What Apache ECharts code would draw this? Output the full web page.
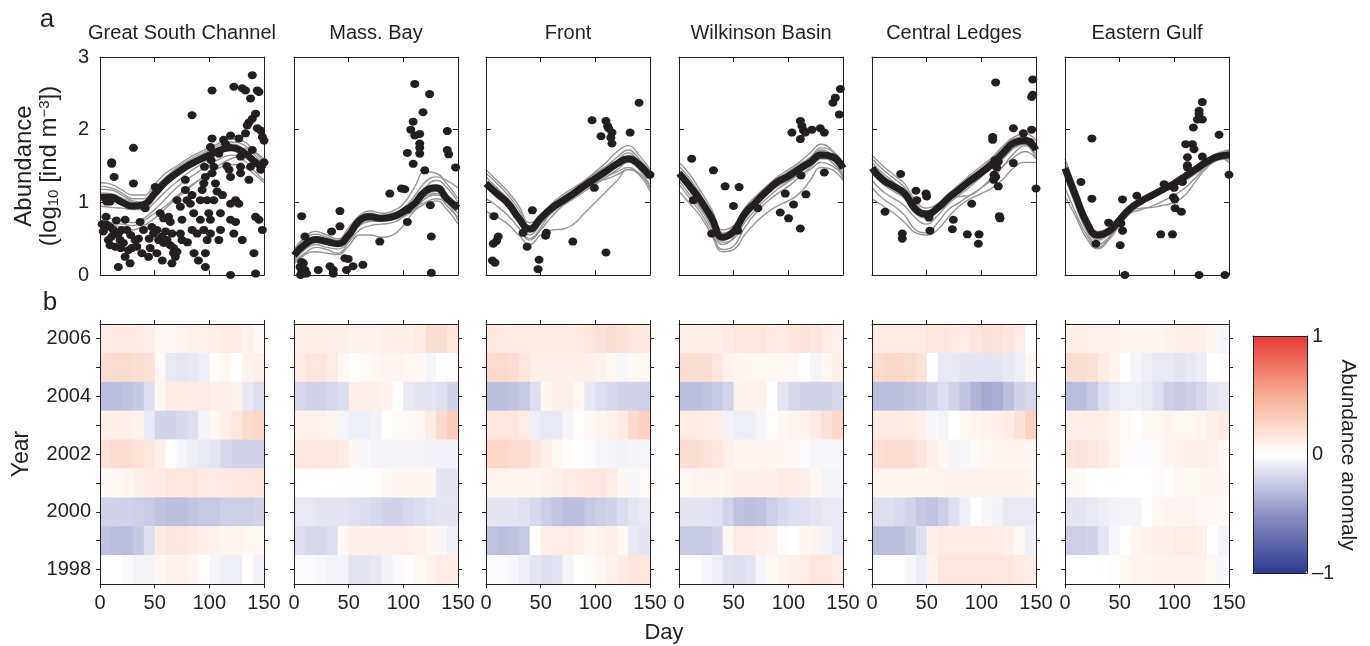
<!DOCTYPE html>
<html><head><meta charset="utf-8">
<script src="https://cdn.jsdelivr.net/npm/echarts@6/dist/echarts.min.js"></script>
<style>html,body{margin:0;padding:0;background:#fff}#c{width:1370px;height:646px}</style>
</head><body><div id="c"></div>
<script>
const regions = ['Great South Channel','Mass. Bay','Front','Wilkinson Basin','Central Ledges','Eastern Gulf'];
const days = [0,10,20,30,40,50,60,70,80,90,100,110,120,130,140,150];
const cellDays = [0,10,20,30,40,50,60,70,80,90,100,110,120,130,140];
const years = [2006,2005,2004,2003,2002,2001,2000,1999,1998];
const yearLabels = [1998,2000,2002,2004,2006];

// ---- panel a: observations (day, log10 abundance)
const obsGSC = [[10.7,1.55],[10.7,1.53],[12.9,1.35],[6.1,1.01],[9.2,1.01],[5.5,0.80],[6.1,0.69],[9.2,0.66],[12.2,0.62],[13.8,0.57],[10.7,0.53],[7.7,0.48],[9.2,0.41],[13.8,0.39],[16.8,0.57],[18.4,0.48],[19.0,0.37],[19.9,0.62],
[30.6,1.75],[30.6,1.26],[23.0,0.76],[24.5,0.62],[21.4,0.44],[26.0,0.34],[23.0,0.25],[16.8,0.11],[27.5,0.16],[32.1,0.48],[29.1,0.37],[35.2,0.50],[36.7,0.73],[39.8,0.62],[38.3,0.30],[33.7,0.39],
[41.3,0.92],[47.4,0.66],[49.0,0.57],[52.0,0.62],[53.6,0.48],[45.9,0.37],[44.4,0.25],[58.2,0.44],[50.5,1.21],[55.1,0.85],[58.2,0.78],[56.6,0.53],[52.0,0.30],
[62.7,0.80],[64.3,0.73],[65.8,0.57],[61.2,0.48],[64.3,0.41],[67.3,0.37],[70.4,0.32],[68.9,0.25],[65.8,0.16],[73.5,0.57],[75.0,0.76],[73.5,0.94],[70.4,1.03],[78.1,1.17],[78.1,1.31],[79.6,1.03],[75.0,0.48],[67.3,0.30],
[84.2,2.20],[84.2,1.10],[82.6,0.98],[85.7,0.85],[84.2,0.62],[88.8,0.57],[91.8,0.76],[91.8,1.03],[93.4,1.17],[94.9,1.26],[96.4,1.35],[95.5,1.49],[94.9,0.62],[98.0,0.48],[96.4,0.30],[96.4,0.11],[101.0,0.76],[99.5,0.85],[98.0,1.03],[101.0,0.57],
[102.5,2.54],[102.5,1.88],[101.0,1.76],[101.6,1.58],[104.1,1.49],[102.5,1.40],[105.6,1.26],[107.1,1.15],[104.1,1.03],[110.2,0.85],[110.2,0.62],[108.7,0.48],[119.4,0],[108.7,1.67],[113,1.86],[119.4,1.92],[119.4,1.35],[119.4,0.98],[119.4,0.76],
[139.3,2.75],[122.4,2.59],[130.1,2.57],[133.1,2.54],[137.7,2.43],[143.9,2.54],[145.4,2.52],[142.3,2.22],[139.3,2.15],[143.9,2.02],[146.9,1.99],[148.5,1.90],[136.2,2.10],[134.7,2.06],[133.1,1.95],[127.0,1.88],[139.3,1.72],[137.7,1.49],[136.2,1.31],[124.0,1.03],[127.0,0.98],[142.3,0.80],[145.4,0.76],[148.5,0.62],[140.8,0.30],[142.3,0.02],[122.4,0.57],[124.0,0.73],[130.1,0.48],[128.6,1.40],[128.6,1.49],[128.6,1.63],
[115,1.8],[116,1.5],[112,1.1],[150,1.85],[150,1.55],[147,1.45],[118,1.45],[80,0.45],[86,0.3],[90,0.2],[60,0.6],[57,0.2],[45,0.5],[28,0.55],[15,0.75],[3,0.6],[2,0.7]];
const obsMB = [[7.0,0.81],[10,0.53],[7,0.18],[8.5,0.16],[5.5,0.11],[7,0.07],[10,0.07],[8.5,0.02],[6,0.0],[11.5,0.02],[22.2,0.07],[32.9,0.12],[35.9,0.02],[35.9,0.07],[34.4,0.6],[42,0.67],[42,0.88],[46.5,0.23],[49.6,0.22],[48,0.07],[54,0.12],[63,0.14],[78.5,0.46],[87.6,1.12],[98.3,1.19],[101.3,1.18],[103.7,0.9],[103.7,0.73],[103.7,1.68],[109,1.53],[106.8,2.0],[109,2.11],[110.4,1.92],[115,1.94],[115,1.81],[115,1.75],[115,1.67],[110.4,2.63],[118,2.24],[124,2.49],[119.6,1.44],[124.7,0.96],[125.6,0.53],[125.6,0.03],[140.2,1.98],[140.2,1.72],[141.5,1.66],[147.8,1.48]];
const obsFR = [[7.3,0.81],[11.2,0.53],[9.7,0.47],[6.7,0.43],[5.8,0.2],[8.2,0.17],[33.9,0.58],[37.6,0.39],[42.4,0.89],[55.2,0.58],[54.5,0.54],[48.5,0.21],[47.6,0.08],[79.4,0.46],[99.1,1.2],[97,2.13],[105.2,1.91],[109.7,2.12],[111.2,2.05],[112.1,2.02],[115.2,1.96],[114.2,1.89],[115.2,1.81],[109.7,0.31],[131.8,1.96],[140,2.37],[150,1.38]];
const obsWB = [[11.6,1.6],[13.1,1.03],[31.5,1.44],[42.2,1.22],[55,1.21],[49.8,0.95],[29.9,0.57],[53.8,0.61],[72.1,0.92],[97.2,1.12],[92.6,0.86],[104.8,0.97],[100.2,0.78],[111,0.64],[116.1,1.11],[111.6,1.37],[111,2.12],[112.4,2.05],[103.3,1.96],[111,1.87],[114,1.99],[115.5,1.96],[121.6,2.0],[129.2,2.02],[132.9,1.96],[132.9,1.41],[140.8,2.37],[143,2.44],[147.6,2.56],[146.6,2.21]];
const obsCL = [[26.2,1.39],[11.9,0.87],[27.7,0.57],[27.7,0.5],[40.2,1.16],[40.9,1.03],[49.4,1.12],[50,1.08],[52.1,0.79],[53,0.61],[74.4,0.76],[73.5,0.63],[87.2,0.56],[97.9,0.56],[97.3,0.43],[91.2,0.98],[113.1,2.65],[110.4,1.9],[110.4,1.86],[112.5,1.58],[115.5,1.56],[114,1.48],[111.6,1.38],[113.1,1.35],[115.5,1.22],[111.3,1.31],[116.5,0.81],[117.1,0.78],[129.3,2.02],[129.3,1.54],[138.4,1.95],[146,2.0],[147,2.69],[147,2.48],[146,2.45],[150,1.19],[144.5,1.83]];
const obsEG = [[14.6,1.28],[24.6,1.88],[24.6,1.05],[28.3,0.43],[39.9,0.72],[51.1,0.71],[52.6,0.61],[50.5,0.41],[52.6,1.04],[65.7,1.09],[54.8,0],[87.6,0.56],[98.3,0.56],[90.7,1.25],[99.8,1.2],[99.2,1.07],[100.4,1.04],[100.7,0.92],[106.5,0.87],[107.4,1.28],[110.4,1.8],[116.5,1.8],[118,1.73],[112,1.62],[112,1.51],[112,1.48],[117.4,2.03],[121.1,2.14],[125.6,2.14],[122.6,2.26],[122.6,2.22],[125.6,2.38],[125.6,1.63],[122.6,0],[140.9,1.93],[146.3,0],[150,1.38]];

// ---- mean climatology (thick black), values at `days`
const meanGSC = [1.07,1.07,1.0,0.95,0.97,1.12,1.28,1.4,1.5,1.58,1.65,1.72,1.75,1.7,1.58,1.45];
const meanMB  = [0.27,0.42,0.49,0.46,0.43,0.55,0.75,0.8,0.78,0.8,0.87,0.98,1.15,1.2,1.05,0.92];
const meanFR  = [1.26,1.12,0.99,0.78,0.63,0.78,0.92,1.02,1.12,1.23,1.33,1.43,1.53,1.6,1.52,1.35];
const meanWB  = [1.4,1.22,1.02,0.78,0.52,0.6,0.84,1.0,1.15,1.28,1.36,1.46,1.55,1.65,1.63,1.47];
const meanCL  = [1.47,1.31,1.22,1.12,0.9,0.84,0.92,1.06,1.18,1.3,1.41,1.53,1.68,1.82,1.85,1.72];
const meanEG  = [1.47,1.08,0.72,0.55,0.6,0.76,0.92,1.02,1.1,1.18,1.26,1.36,1.46,1.56,1.63,1.65];

// ---- individual fits (grey), values at `days`
const runsGSC = [
[1.27,1.25,1.17,1.1,1.1,1.25,1.4,1.5,1.6,1.68,1.75,1.82,1.87,1.85,1.72,1.55],
[1.22,1.2,1.13,1.05,1.05,1.2,1.35,1.47,1.57,1.65,1.72,1.79,1.83,1.8,1.68,1.5],
[1.18,1.17,1.1,1.02,1.0,1.15,1.32,1.44,1.54,1.62,1.7,1.76,1.8,1.75,1.62,1.45],
[1.13,1.12,1.06,1.0,0.98,1.1,1.28,1.4,1.5,1.58,1.66,1.72,1.74,1.7,1.6,1.48],
[0.95,0.93,0.92,0.9,0.9,1.0,1.15,1.28,1.4,1.5,1.6,1.68,1.72,1.75,1.7,1.6],
[0.8,0.78,0.75,0.72,0.78,0.9,1.05,1.2,1.32,1.42,1.52,1.6,1.65,1.6,1.45,1.3],
[0.75,0.72,0.7,0.68,0.75,0.85,0.95,1.08,1.2,1.3,1.4,1.48,1.52,1.5,1.4,1.27],
[0.73,0.7,0.65,0.62,0.68,0.78,0.92,1.05,1.18,1.3,1.42,1.52,1.6,1.63,1.6,1.55]];
const runsMB = [
[0.35,0.52,0.6,0.55,0.5,0.65,0.82,0.88,0.85,0.88,0.98,1.2,1.42,1.4,1.25,1.05],
[0.32,0.5,0.56,0.52,0.48,0.6,0.8,0.85,0.82,0.85,0.92,1.08,1.28,1.35,1.3,1.2],
[0.3,0.46,0.52,0.48,0.45,0.58,0.78,0.83,0.8,0.82,0.9,1.02,1.2,1.3,1.2,1.0],
[0.22,0.38,0.45,0.42,0.4,0.52,0.72,0.78,0.76,0.78,0.85,0.95,1.12,1.15,1.0,0.85],
[0.2,0.35,0.42,0.38,0.36,0.48,0.7,0.76,0.75,0.76,0.82,0.92,1.08,1.12,0.95,0.8],
[0.18,0.3,0.38,0.35,0.3,0.45,0.62,0.68,0.7,0.72,0.8,0.9,1.05,1.1,1.0,0.75],
[0.15,0.28,0.32,0.3,0.28,0.4,0.55,0.55,0.52,0.55,0.68,0.88,0.98,1.02,0.9,0.7],
[0.25,0.4,0.48,0.44,0.42,0.55,0.68,0.74,0.74,0.8,0.88,0.95,1.0,1.05,1.0,0.9]];
const runsFR = [
[1.45,1.3,1.15,0.95,0.72,0.8,0.98,1.1,1.2,1.3,1.42,1.55,1.7,1.78,1.65,1.45],
[1.4,1.26,1.1,0.9,0.68,0.78,0.95,1.07,1.17,1.28,1.4,1.5,1.62,1.72,1.6,1.42],
[1.35,1.2,1.05,0.85,0.62,0.75,0.92,1.05,1.15,1.25,1.36,1.45,1.58,1.68,1.55,1.38],
[1.3,1.15,1.0,0.8,0.6,0.72,0.9,1.0,1.1,1.2,1.3,1.4,1.5,1.62,1.55,1.3],
[1.2,1.07,0.93,0.75,0.55,0.7,0.85,0.97,1.08,1.18,1.26,1.35,1.45,1.55,1.45,1.2],
[1.05,0.95,0.82,0.65,0.48,0.62,0.8,0.95,1.05,1.15,1.25,1.35,1.42,1.48,1.4,1.25],
[0.88,0.8,0.7,0.55,0.42,0.55,0.62,0.63,0.7,0.85,1.0,1.15,1.3,1.45,1.4,1.2],
[1.25,1.1,0.95,0.75,0.5,0.65,0.88,1.02,1.12,1.22,1.28,1.32,1.38,1.45,1.38,1.15]];
const runsWB = [
[1.55,1.38,1.15,0.9,0.62,0.68,0.92,1.08,1.22,1.35,1.45,1.55,1.68,1.8,1.72,1.55],
[1.5,1.32,1.1,0.85,0.58,0.64,0.88,1.04,1.18,1.32,1.42,1.52,1.62,1.75,1.7,1.5],
[1.45,1.28,1.05,0.8,0.55,0.62,0.86,1.02,1.16,1.3,1.4,1.5,1.6,1.72,1.65,1.45],
[1.4,1.2,0.98,0.72,0.48,0.58,0.8,0.98,1.12,1.25,1.35,1.45,1.55,1.7,1.62,1.4],
[1.35,1.15,0.92,0.65,0.42,0.52,0.76,0.95,1.1,1.22,1.3,1.4,1.52,1.62,1.55,1.35],
[1.25,1.05,0.85,0.6,0.35,0.4,0.65,0.85,1.0,1.12,1.22,1.35,1.48,1.6,1.58,1.3],
[1.15,0.98,0.8,0.55,0.32,0.35,0.55,0.72,0.85,0.95,1.02,1.12,1.3,1.48,1.45,1.3],
[1.3,1.1,0.9,0.68,0.45,0.5,0.72,0.9,1.05,1.18,1.28,1.38,1.45,1.55,1.5,1.38]];
const runsCL = [
[1.65,1.5,1.38,1.25,1.02,0.92,0.98,1.12,1.25,1.38,1.5,1.62,1.78,1.9,1.95,1.85],
[1.6,1.45,1.33,1.2,0.98,0.88,0.95,1.1,1.22,1.35,1.47,1.6,1.75,1.88,1.9,1.8],
[1.55,1.4,1.28,1.15,0.95,0.85,0.93,1.08,1.2,1.32,1.44,1.56,1.72,1.85,1.88,1.75],
[1.4,1.25,1.15,1.05,0.85,0.78,0.88,1.02,1.14,1.26,1.38,1.5,1.65,1.8,1.85,1.7],
[1.3,1.15,1.05,0.95,0.78,0.7,0.82,0.98,1.1,1.22,1.35,1.48,1.6,1.75,1.8,1.65],
[1.2,1.05,0.95,0.82,0.62,0.58,0.72,0.9,1.0,1.1,1.2,1.32,1.5,1.68,1.78,1.6],
[1.05,0.95,0.85,0.72,0.58,0.55,0.62,0.8,0.95,1.05,1.12,1.2,1.32,1.48,1.55,1.55],
[1.5,1.35,1.2,1.05,0.88,0.82,0.9,1.05,1.08,1.1,1.2,1.35,1.5,1.62,1.7,1.6]];
const runsEG = [
[1.6,1.2,0.8,0.6,0.65,0.8,0.95,1.05,1.12,1.2,1.28,1.38,1.5,1.6,1.68,1.72],
[1.55,1.15,0.76,0.57,0.62,0.78,0.94,1.04,1.12,1.2,1.28,1.38,1.48,1.58,1.66,1.7],
[1.5,1.1,0.72,0.52,0.58,0.75,0.92,1.02,1.1,1.18,1.26,1.35,1.45,1.56,1.64,1.66],
[1.42,1.02,0.65,0.48,0.56,0.74,0.9,1.0,1.08,1.15,1.22,1.32,1.42,1.52,1.6,1.62],
[1.35,0.95,0.6,0.42,0.52,0.72,0.88,0.92,0.93,0.96,1.0,1.1,1.3,1.48,1.58,1.6],
[1.2,0.85,0.55,0.38,0.5,0.7,0.85,0.9,0.95,1.02,1.1,1.2,1.35,1.5,1.6,1.58],
[1.08,0.8,0.5,0.36,0.48,0.68,0.86,0.98,1.06,1.15,1.22,1.3,1.4,1.52,1.62,1.55],
[1.45,1.05,0.7,0.5,0.58,0.76,0.92,1.03,1.1,1.18,1.26,1.35,1.46,1.56,1.64,1.68]];

// ---- panel b: anomaly, rows = years (2006..1998), columns = 10-day bins starting at cellDays
const anomGSC = [
[0.12,0.13,0.13,0.12,0.1,0.05,0.04,0.08,0.1,0.08,0.1,0.12,0.12,0.08,0.04],
[0.2,0.22,0.22,0.2,0.18,0.05,-0.1,-0.12,-0.1,-0.08,0.02,0.05,0.0,0.08,0.1],
[-0.3,-0.3,-0.28,-0.25,-0.15,0.05,0.12,0.12,0.12,0.12,0.1,0.1,0.08,-0.1,-0.15],
[0.1,0.1,0.1,0.08,-0.1,-0.2,-0.2,-0.18,-0.15,-0.05,0.05,0.1,0.15,0.22,0.25],
[0.18,0.2,0.2,0.18,0.15,0.1,0.0,-0.05,-0.08,-0.1,-0.12,-0.18,-0.2,-0.2,-0.2],
[0.04,0.05,0.06,0.1,0.12,0.13,0.15,0.15,0.15,0.13,0.12,0.13,0.14,0.15,0.15],
[-0.2,-0.2,-0.2,-0.22,-0.24,-0.28,-0.3,-0.3,-0.27,-0.25,-0.25,-0.22,-0.22,-0.22,-0.2],
[-0.28,-0.3,-0.3,-0.25,-0.15,0.12,0.15,0.15,0.12,0.1,0.08,0.07,0.06,0.05,0.05],
[0.0,0.0,-0.02,-0.05,-0.05,0.05,0.08,0.08,0.06,0.02,-0.05,-0.08,-0.08,0.02,-0.06]];
const anomMB = [
[0.1,0.1,0.1,0.1,0.1,0.08,0.08,0.08,0.1,0.1,0.1,0.12,0.2,0.2,0.15],
[0.12,0.15,0.15,0.12,0.05,0.0,0.03,0.05,0.06,0.06,0.05,0.04,-0.05,0.0,0.02],
[-0.18,-0.2,-0.2,-0.18,-0.15,0.1,0.1,0.1,0.08,0.0,-0.1,-0.12,-0.12,-0.15,-0.2],
[0.08,0.08,0.08,0.06,-0.05,-0.08,-0.08,-0.06,0.0,0.03,0.03,0.05,0.12,0.22,0.3],
[0.14,0.15,0.15,0.14,0.12,0.05,-0.03,-0.05,-0.05,-0.05,-0.05,-0.05,-0.06,-0.06,-0.06],
[0.0,0.0,0.0,0.0,0.0,0.0,0.02,0.02,0.04,0.06,0.07,0.07,0.05,-0.12,-0.12],
[-0.1,-0.1,-0.12,-0.12,-0.12,-0.14,-0.16,-0.18,-0.2,-0.2,-0.18,-0.16,-0.13,-0.12,-0.12],
[-0.15,-0.18,-0.18,-0.15,0.05,0.1,0.1,0.1,0.1,0.1,0.1,0.08,0.05,-0.03,-0.08],
[-0.02,-0.02,-0.03,-0.05,-0.06,-0.12,-0.12,-0.1,-0.06,-0.02,0.02,0.05,0.08,0.12,0.12]];
const anomFR = [
[0.15,0.13,0.12,0.12,0.12,0.12,0.12,0.12,0.13,0.15,0.18,0.2,0.18,0.15,0.14],
[0.22,0.22,0.2,0.15,0.1,0.1,0.1,0.1,0.1,0.1,0.08,0.05,-0.03,0.04,0.05],
[-0.3,-0.3,-0.28,-0.25,-0.15,0.05,0.1,0.1,0.05,-0.1,-0.15,-0.18,-0.2,-0.2,-0.22],
[0.15,0.15,0.15,0.12,-0.08,-0.1,-0.1,-0.05,0.02,0.05,0.06,0.08,0.12,0.22,0.28],
[0.25,0.25,0.22,0.2,0.15,0.1,0.05,0.02,0.0,-0.02,-0.04,-0.05,-0.06,-0.05,-0.04],
[0.06,0.06,0.07,0.07,0.07,0.08,0.1,0.12,0.13,0.14,0.14,0.12,0.05,-0.03,0.03],
[-0.12,-0.12,-0.12,-0.14,-0.18,-0.22,-0.27,-0.3,-0.3,-0.25,-0.22,-0.2,-0.16,-0.12,-0.1],
[-0.28,-0.3,-0.28,-0.25,0.0,0.1,0.12,0.12,0.1,0.05,0.08,0.1,0.05,-0.1,-0.12],
[-0.02,-0.02,-0.03,-0.08,-0.12,-0.15,-0.12,-0.05,0.0,0.03,0.05,0.08,0.12,0.15,0.15]];
const anomWB = [
[0.1,0.1,0.1,0.1,0.12,0.15,0.15,0.15,0.13,0.12,0.15,0.17,0.15,0.12,0.08],
[0.2,0.2,0.2,0.15,0.08,0.06,0.05,0.05,0.05,0.05,0.04,0.0,-0.05,0.05,0.1],
[-0.3,-0.3,-0.28,-0.25,-0.2,0.08,0.08,0.08,0.0,-0.12,-0.18,-0.2,-0.2,-0.2,-0.18],
[0.12,0.12,0.12,0.1,-0.06,-0.08,-0.08,-0.04,0.02,0.05,0.06,0.08,0.12,0.18,0.25],
[0.2,0.2,0.18,0.15,0.1,0.07,0.06,0.06,0.06,0.05,0.04,-0.02,-0.03,-0.03,-0.03],
[0.05,0.06,0.06,0.07,0.08,0.1,0.1,0.1,0.1,0.12,0.12,0.1,0.05,-0.05,-0.05],
[-0.12,-0.12,-0.12,-0.14,-0.2,-0.28,-0.3,-0.28,-0.22,-0.18,-0.15,-0.14,-0.12,-0.1,-0.1],
[-0.25,-0.25,-0.25,-0.2,0.05,0.12,0.12,0.1,0.08,0.02,0.0,0.06,0.08,-0.06,-0.1],
[0.0,0.0,-0.03,-0.08,-0.14,-0.15,-0.12,-0.05,0.05,0.08,0.1,0.12,0.15,0.15,0.12]];
const anomCL = [
[0.12,0.12,0.12,0.12,0.12,0.15,0.15,0.13,0.12,0.15,0.18,0.18,0.15,0.12,0.0],
[0.22,0.25,0.25,0.22,0.18,0.0,-0.1,-0.1,-0.12,-0.12,-0.12,-0.12,-0.1,-0.08,0.05],
[-0.3,-0.3,-0.3,-0.28,-0.25,-0.2,-0.15,-0.2,-0.28,-0.35,-0.4,-0.38,-0.3,-0.2,-0.18],
[0.12,0.13,0.13,0.12,0.1,-0.03,-0.05,0.0,0.05,0.06,0.08,0.1,0.12,0.18,0.28],
[0.2,0.22,0.22,0.2,0.15,0.1,0.05,-0.05,-0.03,0.03,0.05,0.06,0.06,0.06,0.05],
[0.06,0.06,0.07,0.07,0.07,0.07,0.08,0.08,0.08,0.08,0.08,0.08,0.08,0.08,0.07],
[-0.15,-0.15,-0.17,-0.2,-0.25,-0.28,-0.22,-0.15,-0.08,0.0,-0.03,-0.06,-0.1,-0.1,-0.1],
[-0.3,-0.3,-0.3,-0.25,-0.15,0.1,0.12,0.12,0.12,0.12,0.12,0.12,0.1,0.05,-0.08],
[0.0,0.0,0.0,-0.03,-0.08,0.08,0.15,0.15,0.15,0.15,0.15,0.15,0.14,0.13,0.12]];
const anomEG = [
[0.1,0.1,0.08,0.08,0.08,0.07,0.07,0.07,0.07,0.08,0.1,0.1,0.1,0.06,-0.05],
[0.2,0.2,0.18,0.12,0.08,0.0,-0.05,-0.08,-0.1,-0.1,-0.12,-0.1,-0.08,0.0,0.02],
[-0.3,-0.3,-0.25,-0.15,-0.1,-0.08,-0.08,-0.1,-0.15,-0.22,-0.25,-0.22,-0.18,-0.12,-0.1],
[0.1,0.1,0.1,0.1,0.08,0.03,0.0,0.05,0.05,0.06,0.05,0.05,0.06,0.1,0.12],
[0.15,0.17,0.15,0.12,0.08,0.03,-0.02,-0.02,0.03,0.06,0.08,0.1,0.1,0.08,0.05],
[0.04,0.03,0.0,0.0,0.0,0.0,0.0,0.0,-0.02,0.02,0.05,0.05,0.05,0.06,0.06],
[-0.12,-0.12,-0.1,-0.08,-0.06,-0.05,-0.05,0.0,0.05,0.06,0.06,0.06,0.05,0.04,0.03],
[-0.22,-0.22,-0.2,-0.12,-0.05,0.0,0.06,0.08,0.1,0.1,0.12,0.12,0.1,0.0,-0.06],
[0.0,0.0,0.0,0.0,0.02,0.05,0.07,0.07,0.08,0.08,0.08,0.08,0.08,0.05,-0.03]];

const obsAll = [obsGSC,obsMB,obsFR,obsWB,obsCL,obsEG];
const meanAll = [meanGSC,meanMB,meanFR,meanWB,meanCL,meanEG];
const runsAll = [runsGSC,runsMB,runsFR,runsWB,runsCL,runsEG];
const anomAll = [anomGSC,anomMB,anomFR,anomWB,anomCL,anomEG];

// ---------- layout ----------
const FONT = 'Liberation Sans, Arial, Helvetica, sans-serif';
const INK = '#231f20';
const lefts = [100,294,486,679,872,1065];
const PW = 164;
const topA = 57, hA = 218, topB = 324, hB = 260;

const grid = [], xAxis = [], yAxis = [], series = [], graphic = [];
const axLine = {show:true, onZero:false, lineStyle:{color:INK, width:1}};
const lbl = {color:INK, fontFamily:FONT, fontSize:20};

function addGrid(left, top, w, h){
  grid.push({left:left, top:top, width:w, height:h, outerBoundsMode:'none', containLabel:false, show:false});
  return grid.length-1;
}
// panel a
for (let i=0;i<6;i++){
  const g = addGrid(lefts[i], topA, PW, hA);
  ['bottom','top'].forEach(pos=>xAxis.push({gridIndex:g, type:'value', position:pos, min:0, max:150, interval:50, z:10,
    axisLine:axLine, axisTick:{show:true, inside:true, length:5, lineStyle:{color:INK}}, axisLabel:{show:false}, splitLine:{show:false}}));
  ['left','right'].forEach(pos=>yAxis.push({gridIndex:g, type:'value', position:pos, min:0, max:3, interval:1, z:10,
    axisLine:axLine, axisTick:{show:true, inside:true, length:5, lineStyle:{color:INK}},
    axisLabel:Object.assign({show:(i===0 && pos==='left'), margin:11}, lbl), splitLine:{show:false}}));
}
// panel b
for (let i=0;i<6;i++){
  const g = addGrid(lefts[i], topB, PW, hB);
  ['bottom','top'].forEach(pos=>xAxis.push({gridIndex:g, type:'value', position:pos, min:0, max:150, interval:50, z:10,
    axisLine:axLine, axisTick:{show:true, inside:false, length:4, lineStyle:{color:INK}},
    axisLabel:Object.assign({show:pos==='bottom', margin:9}, lbl), splitLine:{show:false}}));
  ['left','right'].forEach(pos=>yAxis.push({gridIndex:g, type:'value', position:pos, min:1997.5, max:2006.5, z:10,
    axisLine:axLine, axisTick:{show:true, inside:false, length:4, lineStyle:{color:INK}, customValues:years},
    axisLabel:Object.assign({show:(i===0 && pos==='left'), margin:9, customValues:yearLabels, formatter:v=>String(v)}, lbl), splitLine:{show:false}}));
}
// colour bar frame + labels
const gc = addGrid(1253, 336, 54, 237);
['bottom','top'].forEach(pos=>xAxis.push({gridIndex:gc, type:'value', position:pos, min:0, max:1, z:10,
  axisLine:axLine, axisTick:{show:false}, axisLabel:{show:false}, splitLine:{show:false}}));
['left','right'].forEach(pos=>yAxis.push({gridIndex:gc, type:'value', position:pos, min:-1, max:1, interval:1, z:10,
  axisLine:axLine, axisTick:{show:false},
  axisLabel:Object.assign({show:pos==='right', margin:5, formatter:v=>v<0?'\u2013'+Math.abs(v):String(v)}, lbl), splitLine:{show:false}}));

// series panel a
for (let i=0;i<6;i++){
  const ax = 2*i;
  runsAll[i].forEach(r=>series.push({type:'line', xAxisIndex:ax, yAxisIndex:ax, data:days.map((d,k)=>[d,r[k]]), smooth:true, symbol:'none',
    lineStyle:{color:'#969696', width:1.4}, z:2, silent:true}));
  series.push({type:'line', xAxisIndex:ax, yAxisIndex:ax, data:days.map((d,k)=>[d,meanAll[i][k]]), smooth:true, symbol:'none',
    lineStyle:{color:INK, width:7}, z:3, silent:true});
  series.push({type:'scatter', xAxisIndex:ax, yAxisIndex:ax, data:obsAll[i], symbol:'circle', symbolSize:[9,8],
    itemStyle:{color:INK, opacity:1}, z:4, clip:false, silent:true});
}
// series panel b
const heatIdx = [];
for (let i=0;i<6;i++){
  const ax = 2*(6+i);
  const data = [];
  years.forEach((y,r)=>cellDays.forEach((d,c)=>data.push([d, y, anomAll[i][r][c]])));
  heatIdx.push(series.length);
  series.push({type:'custom', xAxisIndex:ax, yAxisIndex:ax, data:data, encode:{x:0,y:1}, silent:true,
    renderItem:function(params, api){
      const d0 = api.value(0), y = api.value(1);
      const p0 = api.coord([d0, y+0.5]);
      const p1 = api.coord([d0+10, y-0.5]);
      return {type:'rect', shape:{x:p0[0], y:p0[1], width:p1[0]-p0[0]+0.6, height:p1[1]-p0[1]+0.3},
        style:{fill:api.visual('color')}};
    }});
}

// text
function txt(x,y,text,size,rot,extra){
  graphic.push({type:'text', x:x, y:y, rotation:rot||0, z:20,
    style:Object.assign({text:text, fontSize:size, fontFamily:FONT, fill:INK, align:'center', verticalAlign:'middle'}, extra||{})});
}
regions.forEach((r,i)=>txt(lefts[i]+PW/2, 33, r, 20));
txt(47, 20, 'a', 26);
txt(50, 303, 'b', 26);
txt(664, 633, 'Day', 22);
txt(22, 454, 'Year', 23, Math.PI/2);
txt(1348, 455, 'Abundance anomaly', 21, -Math.PI/2);
graphic.push({type:'text', x:37, y:166, rotation:Math.PI/2, z:20,
  style:{text:'{a|Abundance}\n{a|(log}{s|10}{a| [ind m}{p|\u22123}{a|])}', align:'center', verticalAlign:'middle', fill:INK, fontFamily:FONT,
    rich:{a:{fontSize:24, fontFamily:FONT, fill:INK, lineHeight:25},
          s:{fontSize:15, fontFamily:FONT, fill:INK, lineHeight:25, padding:[9,0,0,0]},
          p:{fontSize:15, fontFamily:FONT, fill:INK, lineHeight:25, padding:[0,0,9,0]}}}});

const chart = echarts.init(document.getElementById('c'), null, {renderer:'canvas'});
chart.setOption({
  backgroundColor:'#ffffff',
  animation:false,
  grid:grid, xAxis:xAxis, yAxis:yAxis, series:series, graphic:graphic,
  visualMap:[{type:'continuous', min:-1, max:1, seriesIndex:heatIdx, dimension:2, calculable:false, hoverLink:false,
    left:1253, top:336, itemWidth:54, itemHeight:237, padding:0, text:null, showLabel:false,
    inRange:{color:['#2d3a8e','#8f92c6','#ffffff','#f6ad92','#e93a35']}}]
});
</script></body></html>
